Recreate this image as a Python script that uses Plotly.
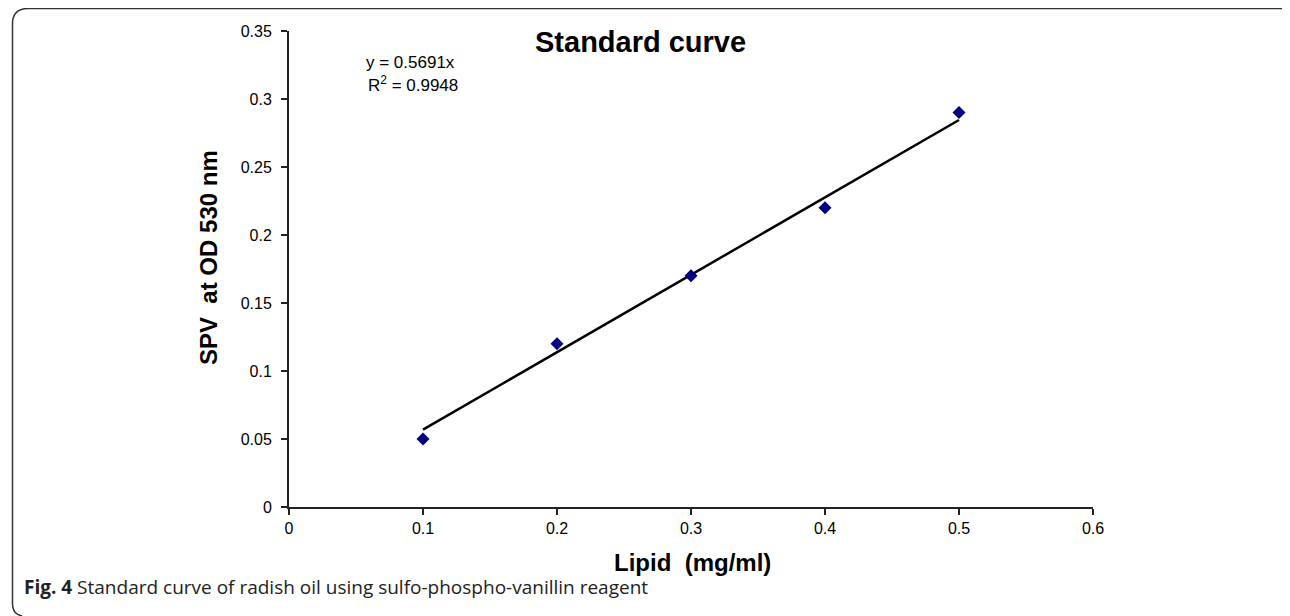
import plotly.graph_objects as go

# Data
lipid_mg_ml = [0.1, 0.2, 0.3, 0.4, 0.5]
spv_od530 = [0.05, 0.12, 0.17, 0.22, 0.29]
trend_slope = 0.5691
trend_r2 = 0.9948
x_ticks = [0, 0.1, 0.2, 0.3, 0.4, 0.5, 0.6]
y_ticks = [0, 0.05, 0.1, 0.15, 0.2, 0.25, 0.3, 0.35]

trend_x = [lipid_mg_ml[0], lipid_mg_ml[-1]]
trend_y = [trend_slope * v for v in trend_x]

# The page has an 8px body margin; work in window pixels and shift.
OFF = 8
W, H = 1290 - OFF, 616 - OFF
L_px, R_px, T_px, B_px = 289, 1093, 31, 507  # plot area in window pixels
ML = L_px - OFF
MT = T_px - OFF
PW = R_px - L_px
PH = B_px - T_px
MR = W - ML - PW
MB = H - MT - PH


def px(x):
    return (x - OFF - ML) / PW


def py(y):
    return (MT + PH - (y - OFF)) / PH


fig = go.Figure()
fig.add_trace(go.Scatter(
    x=trend_x, y=trend_y, mode="lines",
    line=dict(color="#000000", width=2.5),
    showlegend=False, hoverinfo="skip",
))
fig.add_trace(go.Scatter(
    x=lipid_mg_ml, y=spv_od530, mode="markers",
    marker=dict(symbol="diamond", size=10, color="#000080"),
    showlegend=False,
))

fam = "Liberation Sans, Arial, sans-serif"
axis_font = dict(family=fam, size=16, color="#000")
fig.update_xaxes(
    range=[0, 0.6], tickvals=x_ticks, ticktext=[f"{v:g}" for v in x_ticks],
    showgrid=False, zeroline=False, showline=True, linecolor="#222", linewidth=2,
    ticks="outside", ticklen=6, tickwidth=1.5, tickcolor="#222",
    tickfont=axis_font,
)
fig.update_yaxes(
    range=[0, 0.35], tickvals=y_ticks, ticktext=[f"{v:g}" for v in y_ticks],
    showgrid=False, zeroline=False, showline=True, linecolor="#222", linewidth=2,
    ticks="outside", ticklen=6, tickwidth=1.5, tickcolor="#222",
    tickfont=axis_font, ticklabelstandoff=6,
)

fig.add_annotation(text="<b>Standard curve</b>", x=px(640), y=py(42),
                   xref="paper", yref="paper", showarrow=False,
                   xanchor="center", yanchor="middle",
                   font=dict(family=fam, size=29, color="#000"))
fig.add_annotation(text=f"y = {trend_slope}x", x=px(364), y=py(63),
                   xref="paper", yref="paper", showarrow=False,
                   xanchor="left", yanchor="middle",
                   font=dict(family=fam, size=17, color="#000"))
fig.add_annotation(text=f"R<sup>2</sup> = {trend_r2}", x=px(366), y=py(84),
                   xref="paper", yref="paper", showarrow=False,
                   xanchor="left", yanchor="middle",
                   font=dict(family=fam, size=17, color="#000"))
fig.add_annotation(text="<b>Lipid  (mg/ml)</b>", x=px(692), y=py(562),
                   xref="paper", yref="paper", showarrow=False,
                   xanchor="center", yanchor="middle",
                   font=dict(family=fam, size=24, color="#000"))
fig.add_annotation(text="<b>SPV  at OD 530 nm</b>", x=px(208), y=py(258),
                   xref="paper", yref="paper", showarrow=False, textangle=-90,
                   xanchor="center", yanchor="middle",
                   font=dict(family=fam, size=24, color="#000"))
fig.add_annotation(text="<b>Fig. 4</b> Standard curve of radish oil using sulfo-phospho-vanillin reagent",
                   x=px(22), y=py(587),
                   xref="paper", yref="paper", showarrow=False,
                   xanchor="left", yanchor="middle",
                   font=dict(family="Open Sans, Noto Sans, sans-serif", size=19, color="#222"))

# rounded frame (left, top, top-right corner)
path = (f"M {px(22)},{py(616)} Q {px(12.5)},{py(614)} {px(12.5)},{py(604)} "
        f"L {px(12.5)},{py(24)} Q {px(12.5)},{py(8.5)} {px(28)},{py(8.5)} "
        f"L {px(1281)},{py(8.5)} Q {px(1289)},{py(8.5)} {px(1289)},{py(15)}")
fig.add_shape(type="path", path=path, xref="paper", yref="paper",
              line=dict(color="#333", width=1.5))

fig.update_layout(
    width=W, height=H,
    margin=dict(l=ML, r=MR, t=MT, b=MB, autoexpand=False),
    plot_bgcolor="#fff", paper_bgcolor="#fff",
)
fig.write_html("out.html")
